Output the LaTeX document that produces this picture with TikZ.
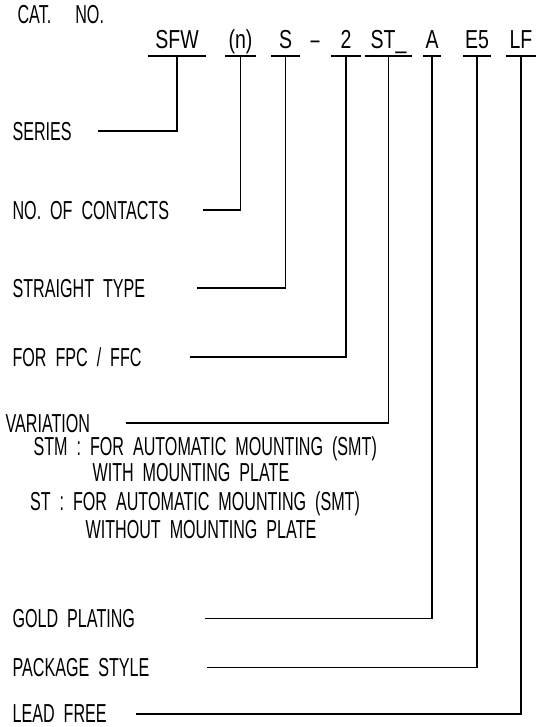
\documentclass[tikz,border=0pt]{standalone}
\usepackage{fontspec}
\setmainfont{Liberation Sans}[FakeStretch=0.62,WordSpace=2]
\newfontfamily\codefont{Liberation Sans}[FakeStretch=0.75,WordSpace=2]
\usetikzlibrary{positioning}

\begin{document}
\begin{tikzpicture}[x=1pt,y=-1pt,line width=1.2pt,
  every node/.style={font=\fontsize{26}{30}\selectfont,inner sep=0pt},
  itemtext/.style={anchor=west,text depth=0pt},
  notetext/.style={anchor=base west},
  codetext/.style={anchor=south,text depth=0pt,inner ysep=7pt,
    font=\fontsize{26}{30}\selectfont\codefont}]
\useasboundingbox (0,0) rectangle (544,727);
% catalogue number
\node[notetext] (cat) at (17,24) {CAT.\hspace{24pt}NO.};
\node[codetext,minimum width=56] (sfw) at (177,56) {SFW};
\node[codetext,minimum width=29] (n) at (240.5,56) {(n)};
\node[codetext,minimum width=27] (s) at (285.5,56) {S};
\node[anchor=base] (dash) at (315,49) {--};
\node[codetext,minimum width=29] (two) at (346,56) {2};
\node[codetext,minimum width=45] (st) at (388.5,56) {ST\_};
\node[codetext,minimum width=16] (a) at (432,56) {A};
\node[codetext,minimum width=26] (e5) at (477,56) {E5};
\node[codetext,minimum width=28] (lf) at (521,56) {LF};
\foreach \c in {sfw,n,s,two,st,a,e5,lf}
  \draw (\c.south west) -- (\c.south east);
% meanings
\node[itemtext] (series) at (12,131) {SERIES};
\node[itemtext] (contacts) at (12,210) {NO. OF CONTACTS};
\node[itemtext] (straight) at (12,288) {STRAIGHT TYPE};
\node[itemtext] (fpc) at (12,357) {FOR FPC / FFC};
\node[itemtext] (variation) at (5,423) {VARIATION};
\node[notetext] (stm) at (33,455) {STM : FOR AUTOMATIC MOUNTING (SMT)};
\node[notetext] (stmplate) at (92,481) {WITH MOUNTING PLATE};
\node[notetext] (stnote) at (29.5,510) {ST : FOR AUTOMATIC MOUNTING (SMT)};
\node[notetext] (stplate) at (85,538) {WITHOUT MOUNTING PLATE};
\node[itemtext] (gold) at (12,618.5) {GOLD PLATING};
\node[itemtext] (package) at (12,667.5) {PACKAGE STYLE};
\node[itemtext] (lead) at (12,714) {LEAD FREE};
% leaders
\draw ([xshift=26]series.east) -| (sfw.south);
\draw ([xshift=33]contacts.east) -| (n.south);
\draw ([xshift=51]straight.east) -| (s.south);
\draw ([xshift=48]fpc.east) -| (two.south);
\draw ([xshift=35]variation.east) -| (st.south);
\draw ([xshift=69]gold.east) -| (a.south);
\draw ([xshift=57]package.east) -| (e5.south);
\draw ([xshift=29]lead.east) -| (lf.south);
\end{tikzpicture}
\end{document}
